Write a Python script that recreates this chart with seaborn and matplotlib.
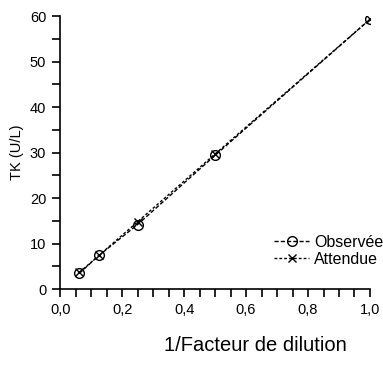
import matplotlib
matplotlib.use("Agg")
import matplotlib.pyplot as plt
import seaborn as sns
import pandas as pd
from matplotlib.ticker import MultipleLocator, FuncFormatter

dilution = [0.0625, 0.125, 0.25, 0.5, 1.0]
observee = [3.5, 7.4, 14.2, 29.4, 59.3]
attendue = [3.7, 7.4, 14.8, 29.7, 59.3]
series_names = ["Observée", "Attendue"]

df_obs = pd.DataFrame({"x": dilution, "y": observee})
df_att = pd.DataFrame({"x": dilution, "y": attendue})

sns.set_theme(style="white")
plt.rcParams["font.family"] = ["Liberation Sans", "DejaVu Sans"]
plt.rcParams["text.color"] = "black"
plt.rcParams["axes.labelcolor"] = "black"
plt.rcParams["xtick.color"] = "black"
plt.rcParams["ytick.color"] = "black"

fig = plt.figure(figsize=(3.83, 3.83), dpi=100)
ax = fig.add_axes([0.157, 0.245, 0.809, 0.713])

sns.lineplot(data=df_obs, x="x", y="y", color="black", marker="o",
             linestyle=(0, (3, 1.5)), linewidth=1.0, markersize=7,
             markerfacecolor="none", markeredgecolor="black", markeredgewidth=1.0,
             label=series_names[0], ax=ax)
sns.lineplot(data=df_att, x="x", y="y", color="black", marker="x",
             linestyle=(0, (2, 1.5)), linewidth=1.0, markersize=6,
             markeredgecolor="black", markeredgewidth=1.0,
             label=series_names[1], ax=ax)

ax.set_xlim(0, 1.0)
ax.set_ylim(0, 60)
ax.xaxis.set_major_locator(MultipleLocator(0.2))
ax.xaxis.set_minor_locator(MultipleLocator(0.05))
ax.yaxis.set_major_locator(MultipleLocator(10))
ax.yaxis.set_minor_locator(MultipleLocator(5))
ax.xaxis.set_major_formatter(FuncFormatter(lambda v, p: f"{v:.1f}".replace(".", ",")))
for s in ["top", "right"]:
    ax.spines[s].set_visible(False)
for s in ["left", "bottom"]:
    ax.spines[s].set_color("black")
    ax.spines[s].set_linewidth(1.2)
ax.tick_params(which="both", direction="out", length=6, width=1.2, color="black",
               labelcolor="black", left=True, bottom=True, labelsize=10.5, pad=4)

ax.set_xlabel("")
ax.set_ylabel("TK (U/L)", fontsize=10.5, labelpad=4, color="black")
fig.text(0.668, 0.098, "1/Facteur de dilution", fontsize=14.5, ha="center", va="center",
         color="black")

leg = ax.legend(loc="lower right", bbox_to_anchor=(1.09, 0.03), frameon=False,
                fontsize=11.5, handlelength=2.2, handletextpad=0.3, labelspacing=0.1)
for t in leg.get_texts():
    t.set_color("black")

fig.savefig("out.png", dpi=100)
